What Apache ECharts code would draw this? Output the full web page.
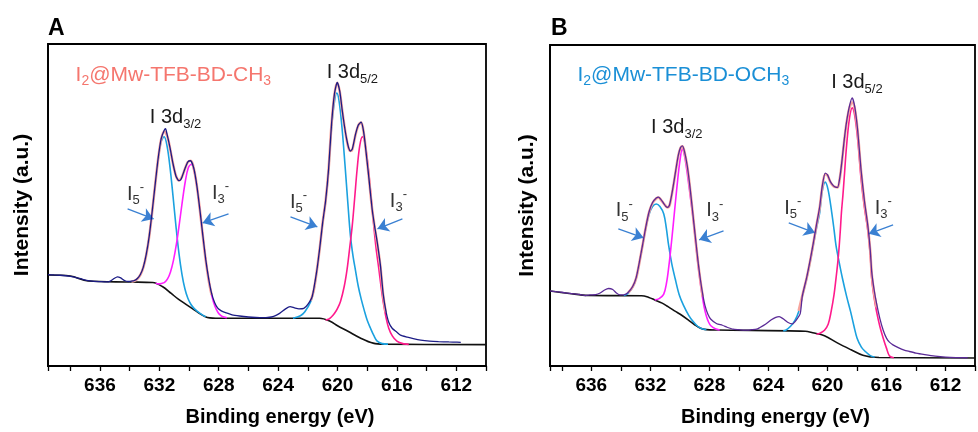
<!DOCTYPE html>
<html><head><meta charset="utf-8">
<script src="https://cdn.jsdelivr.net/npm/echarts@6/dist/echarts.min.js"></script>
<style>html,body{margin:0;padding:0;background:#fff}#c{width:978px;height:432px}</style>
</head><body><div id="c"></div>
<script>
// ---------- data: [binding energy (eV), intensity (a.u.)] ----------
const xTickLabels = [636, 632, 628, 624, 620, 616, 612];

// Panel A : I2@Mw-TFB-BD-CH3
const A_bg = [[639.5,91.5],[638.0,90.5],[636.8,85.5],[634.0,84.5],[632.45,84],[631.8,80],[631.2,73],[630.7,67],[629.8,58],[628.9,49.5],[628.2,48],[621.2,48],[620.5,45],[620.0,40.5],[619.3,35],[618.5,28.5],[617.6,23],[616.8,22],[610.0,21.5]];
const A_raw = [[639.5,92],[639.1,91.6],[638.7,91.3],[638.3,90.8],[638.0,90.2],[637.6,89],[637.2,87.4],[636.8,85.8],[636.4,85.2],[636.0,84.9],[635.6,84.6],[635.3,85.5],[635.05,88],[634.83,89.7],[634.6,88.6],[634.35,86],[634.1,85],[633.88,85.3],[633.68,86],[633.48,88],[633.28,92],[633.08,99.5],[632.88,112.5],[632.68,131],[632.48,156],[632.28,183],[632.08,209],[631.88,228.5],[631.68,237],[631.58,238.7],[631.48,233],[631.28,219.5],[631.08,203.5],[630.88,191],[630.68,186.5],[630.57,187.3],[630.48,190],[630.28,198.5],[630.08,205.5],[629.9,206.5],[629.68,199],[629.48,182],[629.28,158.5],[629.08,132.5],[628.88,107.5],[628.68,88],[628.48,73],[628.28,64],[628.08,58.5],[627.88,56],[627.68,54.5],[627.48,53.5],[627.1,51.5],[626.6,50.3],[626.0,49.3],[625.5,48.8],[625.0,48.6],[624.7,48.8],[624.3,50],[623.9,53],[623.5,57.5],[623.2,59.7],[622.9,58.5],[622.6,57.5],[622.27,58],[622.0,62],[621.71,69.7],[621.4,95.5],[621.2,118.5],[621.0,144.5],[620.8,166.5],[620.6,198.5],[620.4,244],[620.2,274.5],[620.02,285.3],[619.85,276.5],[619.69,258],[619.55,243],[619.4,229.5],[619.25,219.5],[619.13,216.3],[619.0,218.5],[618.79,233],[618.6,242.5],[618.41,245.3],[618.25,236.5],[618.12,221],[617.9,191],[617.67,158],[617.5,140.5],[617.33,125],[617.11,101],[616.93,73],[616.75,56],[616.55,44],[616.32,38],[616.0,34],[615.76,31],[615.3,29],[614.9,27.5],[614.4,26],[613.8,25],[613.2,24.5],[612.5,24.2],[611.95,24],[611.7,23.8]];
const A_env1 = [[633.88,85],[633.68,85.7],[633.48,87.7],[633.28,91.6],[633.08,99.2],[632.88,111.9],[632.68,130.7],[632.48,155.5],[632.28,182.7],[632.08,208.5],[631.88,228],[631.68,236],[631.48,231.9],[631.28,218.9],[631.08,203.5],[630.88,191.4],[630.68,186.7],[630.48,190.3],[630.28,198.2],[630.08,205.3],[629.88,206.5],[629.68,198.7],[629.48,181.8],[629.28,158.1],[629.08,131.8],[628.88,106.8],[628.68,86.6],[628.48,71.4]];
const A_env2 = [[621.8,65.8],[621.6,76.3],[621.4,95.3],[621.2,118.3],[621.0,144.5],[620.8,166.5],[620.6,198.5],[620.4,244],[620.2,274],[620.02,285],[619.85,276],[619.69,258],[619.55,243],[619.4,229],[619.25,219],[619.13,216.3],[619.0,218],[618.79,232.5],[618.6,242],[618.41,245],[618.25,236],[618.12,221],[617.9,191],[617.67,158],[617.5,140],[617.33,124],[617.11,100],[616.93,72],[616.75,54]];
const A_I5_32 = [[633.88,85],[633.68,85.7],[633.48,87.7],[633.28,91.6],[633.08,99.2],[632.88,111.9],[632.68,130.7],[632.48,155.3],[632.28,182.3],[632.08,207.4],[631.88,225.5],[631.68,230.6],[631.48,221.3],[631.28,199.6],[631.08,170.9],[630.88,140.5],[630.68,113.3],[630.48,92.5],[630.28,77.7],[630.08,68.1],[629.88,62.1],[629.68,58.2],[629.48,55.5],[629.28,53.2],[629.08,51.2],[628.88,49.5]];
const A_I3_32 = [[632.25,83.2],[632.05,82.6],[631.85,83.1],[631.65,84.2],[631.45,87.6],[631.25,94.7],[631.05,106.3],[630.85,122.8],[630.65,143.5],[630.45,165.9],[630.25,185.9],[630.05,199.4],[629.85,203],[629.65,195.5],[629.45,178.1],[629.25,154.2],[629.05,127.9],[628.85,103.4],[628.65,84.1],[628.45,69.6],[628.25,59.8],[628.05,53.9],[627.85,50.8],[627.65,49.2],[627.45,48.5]];
const A_I5_52 = [[623.0,48],[622.5,50.5],[622.2,54.5],[621.8,65],[621.6,75.5],[621.4,94.5],[621.2,117.5],[621.0,143.5],[620.8,165],[620.6,196],[620.4,240],[620.2,266.5],[620.05,274.7],[619.9,267],[619.7,240],[619.5,203],[619.3,163],[619.13,131],[618.95,110],[618.8,97],[618.6,80],[618.4,67],[618.2,56],[618.0,46],[617.78,38],[617.55,30.5],[617.33,25],[617.0,22.5],[616.6,22]];
const A_I3_52 = [[620.8,46.3],[620.6,47],[620.4,49.5],[620.2,53],[620.0,58],[619.8,65],[619.55,80],[619.35,98],[619.18,119],[619.01,141],[618.85,168],[618.68,198],[618.5,222],[618.32,230.7],[618.14,223],[617.92,198],[617.74,170],[617.56,141],[617.4,118],[617.22,98],[617.07,80],[616.93,65],[616.75,50],[616.55,38],[616.3,30],[616.0,25],[615.6,22.5],[615.2,21.8]];

// Panel B : I2@Mw-TFB-BD-OCH3
const B_bg = [[638.8,75.5],[637.5,73],[636.2,71],[632.6,70.7],[632.1,69],[631.7,66.5],[631.2,63.3],[630.8,59.7],[630.3,55],[629.9,51.3],[629.4,46],[629.0,41.5],[628.6,38],[628.2,36.6],[627.5,36.2],[621.5,35],[621.0,33.5],[620.2,30.5],[619.3,23],[618.4,16.3],[617.6,10.7],[617.0,9],[616.5,8.5],[610.0,8]];
const B_raw = [[638.8,75.5],[638.4,74.8],[638.0,74.2],[637.6,73.3],[637.2,72.5],[636.8,72],[636.4,70.8],[636.1,71.5],[635.7,71.8],[635.4,73.5],[635.1,76.5],[634.83,78],[634.55,77],[634.3,73.5],[634.05,71.5],[633.8,71.6],[633.51,74],[633.2,80],[632.96,89],[632.75,104],[632.52,122.5],[632.3,140.5],[632.08,155.5],[631.85,164.5],[631.6,169],[631.45,170],[631.3,168],[631.09,163.5],[630.95,160.5],[630.82,159.7],[630.7,162],[630.55,172.5],[630.4,185.5],[630.25,199.5],[630.1,212.5],[629.95,220],[629.83,221.5],[629.68,215.5],[629.5,201.5],[629.35,184.5],[629.2,164.5],[629.05,143.5],[628.9,123],[628.75,103],[628.6,86],[628.45,72],[628.3,61],[628.1,52],[627.9,47],[627.5,42.5],[627.12,41],[626.8,39],[626.4,37],[626.0,36.5],[625.6,36],[625.14,36.5],[624.8,37],[624.6,38.5],[624.2,42],[623.8,46.5],[623.5,49],[623.27,49.7],[623.0,47.5],[622.7,44],[622.39,42.3],[622.1,46.5],[621.84,53],[621.7,70.5],[621.4,89.5],[621.15,108],[620.96,123.5],[620.75,141.5],[620.52,160.5],[620.35,181],[620.15,194],[620.0,192.5],[619.8,185.5],[619.6,181.5],[619.45,180],[619.31,179.7],[619.15,190.5],[619.0,208.5],[618.85,229],[618.7,246],[618.5,262],[618.32,269.7],[618.15,261],[617.95,237],[617.72,197],[617.5,167],[617.26,141],[617.1,117],[617.0,95],[616.85,78],[616.67,63],[616.45,48],[616.22,36],[616.0,28],[615.8,24],[615.56,21.3],[615.2,18.5],[614.8,16],[614.47,14.7],[614.0,13],[613.4,11.5],[612.7,10],[612.0,9],[611.3,8.5],[610.5,8.3]];
const B_env1 = [[633.51,73.5],[633.2,79.5],[632.96,88.5],[632.75,103.5],[632.52,122],[632.3,140],[632.08,155],[631.85,164],[631.6,168.5],[631.45,169.5],[631.3,167.5],[631.09,163.5],[630.95,161],[630.82,159.5],[630.7,161.5],[630.55,172],[630.4,185],[630.25,199],[630.1,212],[629.95,219.5],[629.83,221],[629.68,215],[629.5,201],[629.35,184],[629.2,164],[629.05,143],[628.9,122],[628.75,102],[628.6,85],[628.45,70]];
const B_env2 = [[621.95,55.5],[621.7,71],[621.4,89],[621.15,107.5],[620.96,123],[620.75,141],[620.52,160],[620.35,180],[620.15,193],[620.0,192],[619.8,185],[619.6,181],[619.45,180],[619.31,179.7],[619.15,190],[619.0,208],[618.85,228],[618.7,245],[618.5,260],[618.32,265],[618.15,259],[617.95,236],[617.72,196],[617.5,166],[617.26,140],[617.1,116],[617.0,93],[616.85,75],[616.67,59]];
const B_I5_32 = [[633.8,71],[633.51,73],[633.2,79],[632.96,88],[632.75,103],[632.52,121.3],[632.3,139],[632.08,153],[631.85,160.5],[631.6,163],[631.35,160.5],[631.09,153],[630.92,139],[630.76,121.3],[630.55,103],[630.32,88],[630.05,72],[629.76,61.3],[629.4,51],[629.1,44.7],[628.8,40],[628.5,37.5],[628.2,36.6]];
const B_I3_32 = [[631.7,66.5],[631.4,67.8],[631.1,72],[630.9,84],[630.75,100],[630.6,120],[630.45,142],[630.3,165],[630.15,187],[630.0,206],[629.83,218.7],[629.68,211],[629.55,199],[629.43,186],[629.27,168],[629.1,148],[628.95,127],[628.8,106],[628.65,88],[628.5,72],[628.35,59],[628.2,50],[628.05,44],[627.9,40.5],[627.6,37.5],[627.3,36.3]];
const B_I5_52 = [[623.0,35.5],[622.83,36],[622.5,40],[622.2,46],[621.95,54.7],[621.7,70],[621.4,88],[621.15,106],[620.96,121.3],[620.75,138],[620.52,154.7],[620.35,176],[620.15,185],[619.95,177],[619.71,154.7],[619.55,137],[619.42,121.3],[619.2,104],[618.98,88],[618.7,70],[618.43,54.7],[618.2,40],[617.99,28],[617.7,19],[617.44,14.7],[617.1,10.5],[616.8,9]];
const B_I3_52 = [[620.74,32],[620.5,33],[620.2,36],[619.95,42],[619.75,54.7],[619.55,72],[619.42,88],[619.3,104],[619.2,121],[619.12,138],[619.05,154.7],[618.95,172],[618.87,188],[618.7,222],[618.5,250],[618.32,259.7],[618.15,252],[617.95,228],[617.72,188],[617.5,160],[617.26,136],[617.1,112],[617.0,88],[616.85,70],[616.67,54.7],[616.45,40],[616.22,28],[616.0,18],[615.79,10],[615.5,8.3]];

// ---------- styles ----------
const F = 'Liberation Sans, Arial, Helvetica, sans-serif';
const C = {bg:'#111111', cyan:'#1ba1df', mag:'#ff1eff', pink:'#ff1a8c', env:'#f7a59d', rawA:'#1c1c86', rawB:'#5a2a96', arrow:'#3a80d2', titleA:'#f5766e', titleB:'#1a8fd6'};

function rich(color, big, small){
  return {
    n:{fontSize:big, lineHeight:26, fontFamily:F, color:color},
    s:{fontSize:small, lineHeight:14, verticalAlign:'bottom', fontFamily:F, color:color},
    p:{fontSize:small, lineHeight:14, verticalAlign:'top', fontFamily:F, color:color}
  };
}
function ln(data, color, width, gi, z, extra){
  return Object.assign({type:'line', data:data, xAxisIndex:gi, yAxisIndex:gi, showSymbol:false, symbol:'none',
    smooth:0.35, lineStyle:{color:color, width:width}, itemStyle:{color:color}, z:z, silent:true, animation:false}, extra||{});
}
function mp(coord, text, color, big, small, align){
  return {coord:coord, symbol:'circle', symbolSize:0, itemStyle:{color:'transparent'},
    label:{show:true, position:'inside', formatter:text, align:align||'center', verticalAlign:'middle', rich:rich(color,big,small)}};
}
function arrows(list){
  return {silent:true, animation:false, symbol:['none','arrow'], symbolSize:11,
    itemStyle:{color:C.arrow},
    lineStyle:{color:C.arrow, width:1.3, type:'solid', opacity:1}, label:{show:false},
    data:list.map(a=>[{coord:a[0]},{coord:a[1]}])};
}
const ion5 = '{n|I}{s|5}{p|-}', ion3 = '{n|I}{s|3}{p|-}';
const d32 = '{n|I 3d}{s|3/2}', d52 = '{n|I 3d}{s|5/2}';

const annA = {
  markPoint:{silent:true, animation:false, data:[
    mp([637.64,293], '{n|I}{s|2}{n|@Mw-TFB-BD-CH}{s|3}', C.titleA, 21, 14, 'left'),
    mp([630.91,250], d32, '#1a1a1a', 20, 13), mp([619.0,295], d52, '#1a1a1a', 20, 13),
    mp([633.6,173], ion5, '#333', 20, 13), mp([627.88,174], ion3, '#333', 20, 13),
    mp([622.63,165], ion5, '#333', 20, 13), mp([615.9,166], ion3, '#333', 20, 13)
  ]},
  markLine: arrows([[[634.14,158],[632.39,148]],[[627.34,153],[629.09,144]],[[623.17,150],[621.36,140]],[[615.63,148],[617.31,138]]])
};
const annB = {
  markPoint:{silent:true, animation:false, data:[
    mp([636.94,293], '{n|I}{s|2}{n|@Mw-TFB-BD-OCH}{s|3}', C.titleB, 21, 14, 'left'),
    mp([630.21,240], d32, '#1a1a1a', 20, 13), mp([618.0,285], d52, '#1a1a1a', 20, 13),
    mp([633.77,156], ion5, '#333', 20, 13), mp([627.63,156], ion3, '#333', 20, 13),
    mp([622.35,159], ion5, '#333', 20, 13), mp([616.21,159], ion3, '#333', 20, 13)
  ]},
  markLine: arrows([[[634.17,138],[632.46,129]],[[627.04,136],[628.69,127]],[[622.62,144],[620.84,134]],[[615.55,142],[617.2,133]]])
};

function xAx(gi, max){
  return {gridIndex:gi, type:'value', min:610, max:max, interval:2, inverse:true,
    axisLine:{show:true, lineStyle:{color:'#000', width:1.8}},
    axisTick:{show:true, inside:false, length:5, lineStyle:{color:'#000', width:1.3}},
    axisLabel:{margin:10, fontSize:19, fontWeight:'bold', color:'#000', fontFamily:F,
      formatter:v=>xTickLabels.includes(v)?String(v):''},
    splitLine:{show:false},
    name:'Binding energy (eV)', nameLocation:'middle', nameGap:41,
    nameTextStyle:{fontSize:20, fontWeight:'bold', color:'#000', fontFamily:F, padding:[0,0,0,26]}};
}
function yAx(gi, max, gap){
  return {gridIndex:gi, type:'value', min:0, max:max,
    axisLine:{show:true, lineStyle:{color:'#000', width:1.8}}, axisTick:{show:false}, axisLabel:{show:false}, splitLine:{show:false},
    name:'Intensity (a.u.)', nameLocation:'middle', nameGap:gap,
    nameTextStyle:{fontSize:21, fontWeight:'bold', color:'#000', fontFamily:F}};
}

const option = {
  animation:false,
  backgroundColor:'#ffffff',
  grid:[
    {left:48, top:44, right:492, bottom:64, show:true, borderColor:'#000', borderWidth:1.8, backgroundColor:'transparent'},
    {left:550, top:45, right:-8, bottom:64, show:true, borderColor:'#000', borderWidth:1.8, backgroundColor:'transparent'}
  ],
  xAxis:[xAx(0,639.5), xAx(1,638.8)],
  yAxis:[yAx(0,324,15), yAx(1,323,12)],
  graphic:[
    {type:'text', left:48, top:17, style:{text:'A', font:'bold 23px '+F, fill:'#000'}},
    {type:'text', left:551, top:17, style:{text:'B', font:'bold 23px '+F, fill:'#000'}}
  ],
  series:[
    ln(A_bg, C.bg, 1.6, 0, 2, annA),
    ln(A_I5_32, C.cyan, 1.6, 0, 3), ln(A_I5_52, C.cyan, 1.6, 0, 3),
    ln(A_I3_32, C.mag, 1.6, 0, 3), ln(A_I3_52, C.pink, 1.6, 0, 3),
    ln(A_env1, C.env, 2.6, 0, 4), ln(A_env2, C.env, 2.6, 0, 4),
    ln(A_raw, C.rawA, 1.3, 0, 5, {smooth:0.2}),
    ln(B_bg, C.bg, 1.6, 1, 2, annB),
    ln(B_I5_32, C.cyan, 1.6, 1, 3), ln(B_I5_52, C.cyan, 1.6, 1, 3),
    ln(B_I3_32, C.mag, 1.6, 1, 3), ln(B_I3_52, C.pink, 1.6, 1, 3),
    ln(B_env1, C.env, 2.6, 1, 4), ln(B_env2, C.env, 2.6, 1, 4),
    ln(B_raw, C.rawB, 1.3, 1, 5, {smooth:0.2})
  ]
};
const chart = echarts.init(document.getElementById('c'), null, {renderer:'canvas'});
chart.setOption(option);
</script></body></html>
